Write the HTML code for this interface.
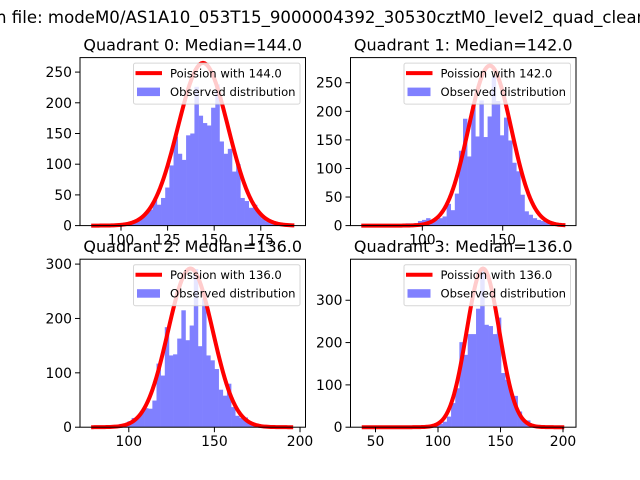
<!DOCTYPE html>
<html><head><meta charset="utf-8"><style>
body{margin:0;background:#fff;}
svg{display:block;font-family:"DejaVu Sans","Liberation Sans",sans-serif;}
</style></head><body>
<svg id="fig" width="640" height="480" viewBox="0 0 640 480">
<text x="-4" y="23" font-size="16.6" fill="#000">n file: modeM0/AS1A10_053T15_9000004392_30530cztM0_level2_quad_clean.evt</text>
</svg>
<script>
// Quadrant medians (Poisson lambda)
const medians = [144.0, 142.0, 136.0, 136.0];
// Histogram bin starts and widths
const binStarts = [94.6, 89.6, 94.4, 93.8];
const binWidths = [2.24, 2.55, 2.42, 3.33];
// Observed counts per quadrant
const counts0 = [3,0,4,3,3,8,10,14,22,26,42,34,45,62,98,145,117,107,147,150,226,179,167,163,192,230,137,117,125,88,100,45,40,29,34,22,12,7,6,3,2];
const counts1 = [4,3,4,8,10,13,10,10,13,16,38,27,56,131,187,121,209,156,219,155,191,261,218,158,189,149,110,95,54,25,19,13,10,8,5,3];
const counts2 = [6,6,11,17,17,28,35,34,49,117,95,184,132,134,163,215,160,187,291,149,236,132,123,107,69,58,80,37,21,17,18,9,6,4,3];
const counts3 = [5,7,8,13,25,57,92,201,171,220,220,280,372,242,239,220,259,128,112,80,74,37,16,16,5];
const allCounts = [counts0, counts1, counts2, counts3];
// Poisson model peaks and curve x ranges
const curvePeaks = [265, 280, 292, 375];
const curveStart = [84, 62, 78, 39];
const curveEnd = [193, 189, 196, 201];
// Axis limits and ticks
const xMin = [78, 55.3, 71.5, 30];
const xMax = [199, 195.6, 203.2, 210.4];
const yMax = [273.6, 294, 309, 397];
const xTicks = [[100,125,150,175],[100,150],[100,150,200],[50,100,150,200]];
const yTicks = [[0,50,100,150,200,250],[0,50,100,150,200,250],[0,100,200,300],[0,100,200,300]];

const NS = "http://www.w3.org/2000/svg";
const svg = document.getElementById('fig');
function mk(tag, attrs, parent){const e=document.createElementNS(NS,tag);for(const k in attrs)e.setAttribute(k,attrs[k]);(parent||svg).appendChild(e);return e;}
const boxes = [[80,57.6],[350.5,57.6],[80,259.2],[350.5,259.2]];
const W = 225.5, H = 168;
const widen = 1.12;
for (let q=0;q<4;q++){
  const [L,T] = boxes[q];
  const g = mk('g',{});
  
  
  const sx = v => L + (v - xMin[q])/(xMax[q]-xMin[q])*W;
  const sy = v => T + H - v/yMax[q]*H;
  const cs = allCounts[q];
  for (let i=0;i<cs.length;i++){
    const x0 = binStarts[q] + i*binWidths[q];
    const r = mk('rect',{x:sx(x0),y:sy(cs[i]),width:sx(x0+binWidths[q])-sx(x0)+0.3,height:sy(0)-sy(cs[i]),fill:'#8080ff'},g);
    
    
  }
  let d='';
  const lam = medians[q], sd=Math.sqrt(lam)*widen;
  for (let v=curveStart[q]; v<=curveEnd[q]; v+=1){
    const y = curvePeaks[q]*Math.exp(-(v-lam)*(v-lam)/(2*sd*sd));
    d += (d?'L':'M') + sx(v).toFixed(2)+','+sy(y).toFixed(2);
  }
  const p = mk('path',{d:d,fill:'none',stroke:'#ff0000','stroke-width':4,'stroke-linejoin':'round'},g);
  
  
  const fr = mk('rect',{x:L,y:T,width:W,height:H,fill:'none',stroke:'#000','stroke-width':1},g);
  
  
  xTicks[q].forEach(t=>{
    mk('line',{x1:sx(t),x2:sx(t),y1:T+H,y2:T+H+5,stroke:'#000'},g);
    const tx = mk('text',{x:sx(t),y:T+H+19,'font-size':13.9,'text-anchor':'middle'},g);
    tx.textContent = t;
    
    
  });
  yTicks[q].forEach(t=>{
    mk('line',{x1:L-5,x2:L,y1:sy(t),y2:sy(t),stroke:'#000'},g);
    const tx = mk('text',{x:L-8,y:sy(t)+5,'font-size':13.9,'text-anchor':'end'},g);
    tx.textContent = t;
    
    
  });
  const lg = mk('g',{},g);
  
  
  const lx = L+W-172, ly = T+5.5;
  mk('rect',{x:lx,y:ly,width:166.5,height:41,rx:2,fill:'#fff','fill-opacity':0.8,stroke:'#ccc','stroke-opacity':0.8},lg);
  mk('line',{x1:lx+2,x2:lx+28.5,y1:ly+10,y2:ly+10,stroke:'#ff0000','stroke-width':4},lg);
  mk('rect',{x:lx+3.5,y:ly+24.5,width:23,height:8.5,fill:'#8080ff'},lg);
  const t1 = mk('text',{x:lx+36.5,y:ly+14.5,'font-size':11.6},lg);
  t1.textContent = 'Poission with '+medians[q].toFixed(1);
  
  
  const t2 = mk('text',{x:lx+36.5,y:ly+33,'font-size':11.6},lg);
  t2.textContent = 'Observed distribution';
  
  
  const tt = mk('text',{x:L+W/2,y:T-7,'font-size':16,'text-anchor':'middle'},svg);
  tt.textContent = 'Quadrant '+q+': Median='+medians[q].toFixed(1);
  
  
}
</script>
</body></html>
